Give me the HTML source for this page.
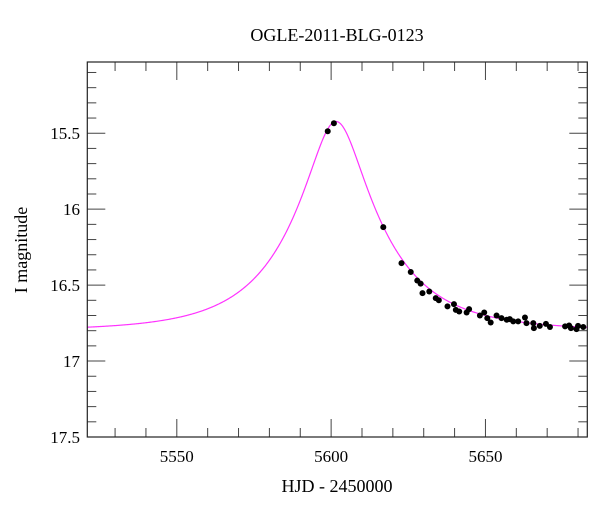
<!DOCTYPE html>
<html><head><meta charset="utf-8"><style>
html,body{margin:0;padding:0;background:#fff;}
svg{display:block;font-family:"Liberation Serif",serif;}
</style></head><body>
<svg id="chart" width="600" height="512" viewBox="0 0 600 512">
<text x="337" y="41" font-size="18" text-anchor="middle">OGLE-2011-BLG-0123</text>
<text x="337" y="492" font-size="18" text-anchor="middle">HJD - 2450000</text>
<text transform="translate(27,250) rotate(-90)" font-size="18" text-anchor="middle">I magnitude</text>
<g id="ticks"></g>
<g id="model"></g>
<g id="points"></g>
<rect x="87.3" y="62" width="500" height="375" fill="none" stroke="#222" stroke-width="1.2"/>
</svg>
<script>
const xTicks=[5550,5600,5650];
const yTicks=[15.5,16,16.5,17,17.5];
const yTickLabels=["15.5","16","16.5","17","17.5"];
const obsTime=[5598.9,5600.9,5616.9,5622.8,5625.8,5627.9,5629,5629.6,5631.8,5633.9,5634.9,5637.7,5639.8,5640.4,5641.5,5643.9,5644.7,5648.2,5649.6,5650.6,5651.7,5653.6,5655.2,5656.9,5657.9,5659,5660.6,5662.8,5663.3,5665.5,5665.7,5667.6,5669.6,5670.9,5675.8,5677.1,5677.7,5679.5,5680,5681.7];
const obsMag=[15.487,15.434,16.118,16.355,16.414,16.47,16.49,16.553,16.542,16.586,16.60,16.64,16.625,16.663,16.674,16.68,16.658,16.70,16.68,16.717,16.746,16.70,16.717,16.728,16.724,16.739,16.739,16.713,16.75,16.75,16.783,16.768,16.755,16.776,16.772,16.766,16.783,16.79,16.768,16.776];
const modelT0=5601.6, modelTE=29, modelU0=0.29, modelBase=16.80;

const L=87.3,R=587.3,T=62,B=437;
const xmin=5521,xmax=5683,ymin=15.031,ymax=17.5;
const X=t=>L+(t-xmin)/(xmax-xmin)*(R-L);
const Y=m=>T+(m-ymin)/(ymax-ymin)*(B-T);
const NS="http://www.w3.org/2000/svg";
function mk(tag,attrs,parent){const e=document.createElementNS(NS,tag);for(const k in attrs)e.setAttribute(k,attrs[k]);parent.appendChild(e);return e;}
const tg=document.getElementById('ticks');
for(let t=5530;t<=5680;t+=10){
  const major=(t%50===0);const len=major?18:9;const x=X(t);
  const a=mk('line',{x1:x,x2:x,y1:B,y2:B-len,stroke:'#444','stroke-width':1},tg);
  
  
  const b=mk('line',{x1:x,x2:x,y1:T,y2:T+len,stroke:'#444','stroke-width':1},tg);
  
  
}
xTicks.forEach(t=>{
  const e=mk('text',{x:X(t),y:462,'font-size':17,'text-anchor':'middle'},tg);
  e.textContent=t;
  
  
});
for(let i=0;i<=24;i++){
  const m=15.1+i*0.1;if(m>17.501)break;
  const major=Math.abs(m*2-Math.round(m*2))<1e-6;const len=major?18:9;const y=Y(m);
  const a=mk('line',{x1:L,x2:L+len,y1:y,y2:y,stroke:'#444','stroke-width':1},tg);
  
  
  const b=mk('line',{x1:R,x2:R-len,y1:y,y2:y,stroke:'#444','stroke-width':1},tg);
  
  
}
yTicks.forEach((m,i)=>{
  const e=mk('text',{x:80,y:Y(m)+6,'font-size':17,'text-anchor':'end'},tg);
  e.textContent=yTickLabels[i];
  
  
});
let d='';
for(let t=xmin;t<=xmax;t+=0.25){
  const tau=(t-modelT0)/modelTE;const u=Math.sqrt(modelU0*modelU0+tau*tau);
  const A=(u*u+2)/(u*Math.sqrt(u*u+4));
  const m=modelBase-2.5*Math.log10(A);
  d+=(d?'L':'M')+X(t).toFixed(2)+','+Y(m).toFixed(2);
}
const p=mk('path',{d:d,fill:'none',stroke:'#ff33ff','stroke-width':1.2},document.getElementById('model'));


const pg=document.getElementById('points');
obsTime.forEach((t,i)=>{
  const c=mk('circle',{cx:X(t),cy:Y(obsMag[i]),r:3,fill:'#000'},pg);
  
  
});
</script>
</body></html>
